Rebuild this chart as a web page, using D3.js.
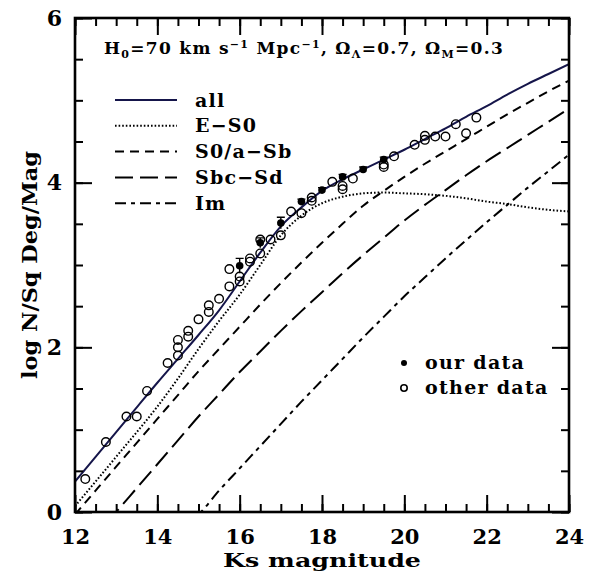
<!DOCTYPE html>
<html>
<head>
<meta charset="utf-8">
<script src="https://cdn.jsdelivr.net/npm/d3@7"></script>
<style>
  body { margin: 0; background: #fff; }
  text { font-family: "DejaVu Serif", serif; font-weight: bold; fill: #000; }
</style>
</head>
<body>
<div id="chart_area"></div>
<script>
// model counts (log N per sq deg per mag) on a 0.5 mag grid
var magGrid = [12, 12.5, 13, 13.5, 14, 14.5, 15, 15.5, 16, 16.5, 17, 17.5, 18,
               18.5, 19, 19.5, 20, 20.5, 21, 21.5, 22, 22.5, 23, 23.5, 24];
var allModel = [0.37, 0.67, 0.97, 1.27, 1.57, 1.86, 2.15, 2.45, 2.80, 3.15, 3.47, 3.70, 3.90,
                4.04, 4.16, 4.28, 4.40, 4.53, 4.66, 4.80, 4.93, 5.07, 5.20, 5.32, 5.44];
var eS0Model = [0.07, 0.37, 0.67, 0.97, 1.28, 1.62, 1.98, 2.32, 2.64, 3.00, 3.36, 3.60, 3.75,
                3.83, 3.87, 3.88, 3.87, 3.86, 3.84, 3.81, 3.77, 3.74, 3.70, 3.67, 3.65];
var s0aSbModel = [-0.03, 0.26, 0.55, 0.84, 1.13, 1.42, 1.71, 1.98, 2.25, 2.52, 2.78, 3.03, 3.27,
                  3.50, 3.72, 3.90, 4.07, 4.23, 4.38, 4.53, 4.68, 4.83, 4.97, 5.11, 5.24];
var sbcSdModel = [-0.60, -0.30, 0.00, 0.29, 0.58, 0.87, 1.16, 1.43, 1.70, 1.95, 2.20, 2.44, 2.67,
                  2.90, 3.12, 3.33, 3.54, 3.73, 3.91, 4.09, 4.26, 4.42, 4.58, 4.74, 4.90];
var imModel = [-1.60, -1.30, -1.00, -0.70, -0.40, -0.20, -0.03, 0.26, 0.53, 0.80, 1.07, 1.34, 1.60,
               1.86, 2.12, 2.37, 2.62, 2.85, 3.08, 3.30, 3.52, 3.73, 3.94, 4.14, 4.34];

// our data (filled) with error bars
var ourMag = [16.0, 16.5, 17.0, 17.5, 18.0, 18.5, 19.0, 19.5];
var ourLogN = [2.99, 3.27, 3.51, 3.77, 3.91, 4.07, 4.16, 4.28];
var ourErr = [0.09, 0.06, 0.07, 0.03, 0.03, 0.03, 0.03, 0.03];

// other data (open)
var otherMag = [12.25, 12.75, 13.25, 13.5, 13.75, 14.25, 14.5, 14.5, 14.5, 14.75, 14.75,
                15.0, 15.25, 15.25, 15.5, 15.75, 15.75, 16.0, 16.0, 16.25, 16.25, 16.5, 16.5,
                16.75, 17.0, 17.25, 17.5, 17.75, 17.75, 18.25, 18.5, 18.5, 18.75, 19.5, 19.5,
                19.75, 20.25, 20.5, 20.5, 20.75, 21.0, 21.25, 21.5, 21.75];
var otherLogN = [0.40, 0.85, 1.16, 1.16, 1.47, 1.81, 1.90, 2.00, 2.09, 2.13, 2.20,
                 2.34, 2.43, 2.51, 2.59, 2.74, 2.95, 2.80, 2.86, 3.04, 3.08, 3.14, 3.31,
                 3.31, 3.36, 3.65, 3.63, 3.78, 3.82, 4.01, 3.96, 3.92, 4.05, 4.22, 4.19,
                 4.32, 4.46, 4.57, 4.52, 4.56, 4.56, 4.71, 4.60, 4.79];

var xMajor = [12, 14, 16, 18, 20, 22, 24];
var yMajor = [0, 2, 4, 6];
var legendNames = ["all", "E\u2212S0", "S0/a\u2212Sb", "Sbc\u2212Sd", "Im"];

var sMargin = { top: 18, right: 25, bottom: 61, left: 75 };
var sFrameWidth = 594;
var sFrameHeight = 573;
var sWidth = sFrameWidth - sMargin.left - sMargin.right;
var sHeight = sFrameHeight - sMargin.top - sMargin.bottom;

var sFrame = d3.select("#chart_area").append("svg")
  .attr("width", sFrameWidth).attr("height", sFrameHeight);
var sCanvas = sFrame.append("g")
  .attr("transform", "translate(" + sMargin.left + "," + sMargin.top + ")");

var x = d3.scaleLinear().domain([12, 24]).range([0, sWidth]);
var y = d3.scaleLinear().domain([0, 6]).range([sHeight, 0]);

sFrame.append("defs").append("clipPath").attr("id", "clip")
  .append("rect").attr("width", sWidth).attr("height", sHeight);

// curves
var styles = [
  { vals: allModel, dash: null, color: "#15154a" },
  { vals: eS0Model, dash: "1.6,2", color: "#000" },
  { vals: s0aSbModel, dash: "9,6", color: "#000" },
  { vals: sbcSdModel, dash: "18,7", color: "#000" },
  { vals: imModel, dash: "11,5,4,5", color: "#000" }
];

var line = d3.line()
  .x(function(d) { return x(d[0]); })
  .y(function(d) { return y(d[1]); })
  .curve(d3.curveMonotoneX);

var gCurves = sCanvas.append("g").attr("clip-path", "url(#clip)");
styles.forEach(function(s) {
  gCurves.append("path")
    .datum(d3.zip(magGrid, s.vals))
    .attr("d", line)
    .attr("fill", "none")
    .attr("stroke", s.color)
    .attr("stroke-width", 2)
    .attr("stroke-dasharray", s.dash);
});

// other data
sCanvas.append("g").selectAll("circle")
  .data(d3.zip(otherMag, otherLogN))
  .enter().append("circle")
  .attr("cx", function(d) { return x(d[0]); })
  .attr("cy", function(d) { return y(d[1]); })
  .attr("r", 4.3)
  .attr("fill", "none")
  .attr("stroke", "#000")
  .attr("stroke-width", 1.4);

// our data + error bars
var ours = d3.zip(ourMag, ourLogN, ourErr);
var gOur = sCanvas.append("g");
gOur.selectAll("path.err")
  .data(ours).enter().append("path")
  .attr("class", "err")
  .attr("d", function(d) {
    var cx = x(d[0]), y1 = y(d[1] + d[2]), y0 = y(d[1] - d[2]);
    return "M" + cx + "," + y0 + "V" + y1 + "M" + (cx - 4) + "," + y1 + "H" + (cx + 4);
  })
  .attr("stroke", "#000").attr("stroke-width", 1.4).attr("fill", "none");
gOur.selectAll("circle")
  .data(ours).enter().append("circle")
  .attr("cx", function(d) { return x(d[0]); })
  .attr("cy", function(d) { return y(d[1]); })
  .attr("r", 3.8)
  .attr("fill", "#000");

// axes: major + minor ticks drawn inward on all four sides
function minorVals(lo, hi) { return d3.range(lo, hi + 0.001, 0.5); }

sCanvas.append("g")
  .attr("transform", "translate(0," + sHeight + ")")
  .call(d3.axisBottom(x).tickValues(minorVals(12, 24)).tickSizeInner(-8).tickSizeOuter(0).tickFormat(""));
var gxb = sCanvas.append("g")
  .attr("transform", "translate(0," + sHeight + ")")
  .call(d3.axisBottom(x).tickValues(xMajor).tickSizeInner(-17).tickSizeOuter(0).tickPadding(17).tickFormat(d3.format("d")));
sCanvas.append("g")
  .call(d3.axisTop(x).tickValues(minorVals(12, 24)).tickSizeInner(-8).tickSizeOuter(0).tickFormat(""));
sCanvas.append("g")
  .call(d3.axisTop(x).tickValues(xMajor).tickSizeInner(-17).tickSizeOuter(0).tickFormat(""));

sCanvas.append("g")
  .call(d3.axisLeft(y).tickValues(minorVals(0, 6)).tickSizeInner(-8).tickSizeOuter(0).tickFormat(""));
var gyl = sCanvas.append("g")
  .call(d3.axisLeft(y).tickValues(yMajor).tickSizeInner(-17).tickSizeOuter(0).tickPadding(13).tickFormat(d3.format("d")));
sCanvas.append("g")
  .attr("transform", "translate(" + sWidth + ",0)")
  .call(d3.axisRight(y).tickValues(minorVals(0, 6)).tickSizeInner(-8).tickSizeOuter(0).tickFormat(""));
sCanvas.append("g")
  .attr("transform", "translate(" + sWidth + ",0)")
  .call(d3.axisRight(y).tickValues(yMajor).tickSizeInner(-17).tickSizeOuter(0).tickFormat(""));

sCanvas.selectAll(".domain").remove();
sCanvas.selectAll(".tick line").attr("stroke", "#000").attr("stroke-width", 2);
sCanvas.selectAll(".tick text").style("font-size", "22px").attr("fill", "#000");
gxb.selectAll(".tick text").style("font-size", "21px").attr("dy", null).attr("y", 32);

sCanvas.append("rect")
  .attr("width", sWidth).attr("height", sHeight)
  .attr("fill", "none").attr("stroke", "#000").attr("stroke-width", 2.6);

// axis titles
sFrame.append("text")
  .attr("x", sMargin.left + sWidth / 2).attr("y", 567)
  .attr("text-anchor", "middle").style("font-size", "19px")
  .attr("textLength", 198).attr("lengthAdjust", "spacingAndGlyphs")
  .text("Ks magnitude");
sFrame.append("text")
  .attr("transform", "translate(37,265) rotate(-90)")
  .attr("text-anchor", "middle").style("font-size", "20px")
  .attr("textLength", 228).attr("lengthAdjust", "spacingAndGlyphs")
  .text("log N/Sq Deg/Mag");

// cosmology label
var tl = sFrame.append("text")
  .attr("x", 304).attr("y", 54)
  .attr("text-anchor", "middle").style("font-size", "17px")
  .style("letter-spacing", "1.3px");
tl.append("tspan").text("H");
tl.append("tspan").attr("dy", 4).style("font-size", "11px").text("0");
tl.append("tspan").attr("dy", -4).text("=70 km s");
tl.append("tspan").attr("dy", -6).style("font-size", "11px").text("\u22121");
tl.append("tspan").attr("dy", 6).text(" Mpc");
tl.append("tspan").attr("dy", -6).style("font-size", "11px").text("\u22121");
tl.append("tspan").attr("dy", 6).text(", \u03a9");
tl.append("tspan").attr("dy", 4).style("font-size", "11px").text("\u039b");
tl.append("tspan").attr("dy", -4).text("=0.7, \u03a9");
tl.append("tspan").attr("dy", 4).style("font-size", "11px").text("M");
tl.append("tspan").attr("dy", -4).text("=0.3");

// line legend
var gLeg = sFrame.append("g");
styles.forEach(function(s, i) {
  var ly = 100 + i * 25.8;
  gLeg.append("line")
    .attr("x1", 115).attr("x2", 177).attr("y1", ly).attr("y2", ly)
    .attr("stroke", s.color).attr("stroke-width", 2)
    .attr("stroke-dasharray", s.dash);
  gLeg.append("text")
    .attr("x", 195).attr("y", ly + 6.5)
    .style("font-size", "19px").style("letter-spacing", "1.2px")
    .text(legendNames[i]);
});

// data legend
gLeg.append("circle").attr("cx", 404).attr("cy", 363).attr("r", 3).attr("fill", "#000");
gLeg.append("text").attr("x", 425).attr("y", 369).style("font-size", "19px")
  .style("letter-spacing", "1.3px").text("our data");
gLeg.append("circle").attr("cx", 404).attr("cy", 388).attr("r", 3.2)
  .attr("fill", "none").attr("stroke", "#000").attr("stroke-width", 1.6);
gLeg.append("text").attr("x", 425).attr("y", 394).style("font-size", "19px")
  .style("letter-spacing", "1.3px").text("other data");
</script>
</body>
</html>
